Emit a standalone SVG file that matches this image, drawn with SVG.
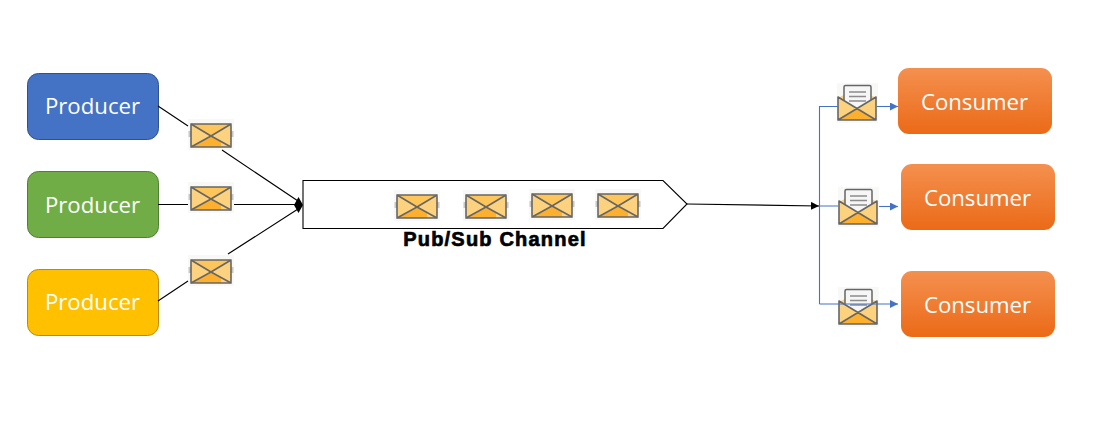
<svg xmlns="http://www.w3.org/2000/svg" width="1113" height="423" viewBox="0 0 1113 423">
<style>
.label{font-family:"Open Sans","Noto Sans",sans-serif;font-size:22.200px;fill:#fff;text-anchor:middle}
.title{font-family:"Liberation Sans",Arial,sans-serif;font-size:20px;font-weight:700;fill:#000;stroke:#000;stroke-width:.7px;letter-spacing:1.2px;text-anchor:middle}
.k{fill:none;stroke:#000;stroke-width:1.1}
.b{fill:none;stroke:#4472c4;stroke-width:1.1}
.e{fill:none;stroke:#666;stroke-width:1.6;stroke-linejoin:round;stroke-linecap:round}
</style>
<defs>
<linearGradient id="og" x1="0" y1="0" x2="0" y2="1"><stop offset="0" stop-color="#f4904f"/><stop offset="1" stop-color="#eb6a17"/></linearGradient>
<marker id="ka" markerWidth="9" markerHeight="9" refX="8" refY="4" orient="auto" markerUnits="userSpaceOnUse"><path d="M0 0L8 4L0 8Z" fill="#000"/></marker>
<marker id="ba" markerWidth="9" markerHeight="9" refX="8" refY="4" orient="auto" markerUnits="userSpaceOnUse"><path d="M0 0L8 4L0 8Z" fill="#4472c4"/></marker>
<symbol id="env" width="46" height="31" viewBox="0 0 46 31" overflow="visible">
<rect width="46" height="31" fill="#f8f8f6"/>
<rect x="0.500" y="12" width="3" height="6" fill="#c8c8c8"/><rect x="42.500" y="12" width="3" height="6" fill="#c8c8c8"/>
<rect x="3" y="5" width="40" height="23" rx="1.500" fill="#fdd27e"/>
<path d="M3 5H43L23 17Z" fill="#fec65a"/>
<path d="M3 28L23 17L33 23L33 28Z" fill="#fdb02e"/>
<rect x="3" y="5" width="40" height="23" rx="1.500" class="e"/>
<path d="M3 5L23 17L43 28M43 5L23 17L3 28" class="e"/>
</symbol>
<symbol id="open" width="41" height="40" viewBox="0 0 41 40" overflow="visible">
<rect width="41" height="40" fill="#f8f8f6"/>
<path d="M1 15L20 5L39 15V37H1Z" fill="#fdd27e"/>
<rect x="7" y="2.500" width="27" height="26" rx="1.500" fill="#f6f6f6" stroke="#666" stroke-width="1.500"/>
<path d="M12 9H29M12 13.500H29M12 18H29" stroke="#8c8c8c" stroke-width="1.600"/>
<path d="M1 14L20 25.500L39 14V37H1Z" fill="#fdd27e"/>
<path d="M1 37L20 25.500L39 37Z" fill="#fdb02e"/>
<path d="M1 14V37H39V14M1 14L20 25.500L39 14M1 37L20 25.500L39 37" class="e"/>
</symbol>
</defs>
<rect width="1113" height="423" fill="#fff"/>
<g id="producer1"><rect x="27.500" y="73.500" width="131" height="66" rx="11" fill="#4472c4" stroke="#2f528f"/><text class="label" x="92.500" y="114">Producer</text></g>
<g id="producer2"><rect x="27.500" y="171.500" width="131" height="66" rx="11" fill="#70ad47" stroke="#507e32"/><text class="label" x="92.500" y="212.500">Producer</text></g>
<g id="producer3"><rect x="27.500" y="269.500" width="131" height="66" rx="11" fill="#ffc000" stroke="#bc8c00"/><text class="label" x="92.500" y="310">Producer</text></g>
<g id="channel">
<path d="M303 180.500H663L687 204L663 228.500H303Z" fill="#fff" stroke="#000" stroke-width="1.100"/>
<use href="#env" x="394" y="190"/><use href="#env" x="463" y="190"/><use href="#env" x="529" y="189"/><use href="#env" x="595" y="189"/>
<text class="title" x="495" y="246">Pub/Sub Channel</text>
</g>
<g id="message1"><use href="#env" x="188" y="119"/></g>
<g id="message2"><use href="#env" x="188" y="182"/></g>
<g id="message3"><use href="#env" x="188" y="255"/></g>
<g id="message4"><use href="#open" x="837" y="83"/></g>
<g id="message5"><use href="#open" x="838" y="187"/></g>
<g id="message6"><use href="#open" x="838" y="287"/></g>
<g id="consumer1"><rect x="898" y="68" width="154" height="66" rx="11" fill="url(#og)"/><text class="label" x="974.500" y="110">Consumer</text></g>
<g id="consumer2"><rect x="901" y="164" width="154" height="66" rx="11" fill="url(#og)"/><text class="label" x="977.500" y="206">Consumer</text></g>
<g id="consumer3"><rect x="901" y="271" width="154" height="66" rx="11" fill="url(#og)"/><text class="label" x="977.500" y="313">Consumer</text></g>
<g id="connectors">
<path class="k" d="M158 106L188 126M222 150L298 201M158 204.500H188M234 204.500H296M158 301L188 281M228 254L298 209"/>
<path d="M294 205L298.500 197L303 205L298.500 213Z" fill="#000"/>
<path class="k" d="M687 204L819 206" marker-end="url(#ka)"/>
<path class="b" d="M838 106.500H819.500V304M819.500 206H838"/>
<path class="b" d="M877 106.500H898" marker-end="url(#ba)"/>
<path class="b" d="M879 206.500H898" marker-end="url(#ba)"/>
<path class="b" d="M819.500 304H898" marker-end="url(#ba)"/>
</g>
</svg>
